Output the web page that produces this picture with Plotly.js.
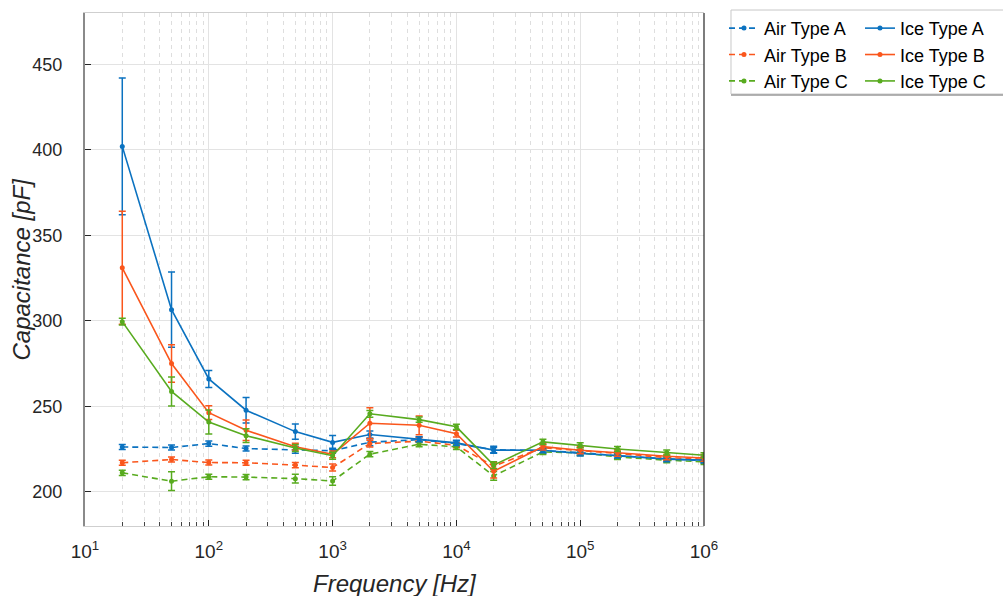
<!DOCTYPE html>
<html><head><meta charset="utf-8">
<script src="https://cdn.plot.ly/plotly-3.0.1.min.js"></script>
<style>html,body{margin:0;padding:0;background:#fff;}#chart{width:1003px;height:596px;}</style>
</head><body><div id="chart"></div>
<script>
const freq = [20, 50, 100, 200, 500, 1000, 2000, 5000, 10000, 20000, 50000, 100000, 200000, 500000, 1000000];

const airA = [226.2, 225.9, 228.2, 225.3, 224.5, 224.0, 229.0, 230.5, 228.2, 224.6, 224.0, 223.0, 221.0, 219.5, 218.2];
const airB = [217.0, 218.9, 217.1, 217.0, 215.6, 214.2, 228.2, 229.6, 227.2, 215.0, 225.8, 224.3, 222.4, 220.0, 219.0];
const airC = [211.1, 206.2, 208.8, 208.6, 207.7, 206.3, 222.0, 227.8, 226.3, 209.3, 223.3, 222.8, 220.4, 218.5, 217.5];
const iceA = [402.0, 306.5, 266.0, 247.7, 235.2, 228.9, 233.5, 230.7, 228.6, 224.4, 224.3, 222.4, 221.2, 219.0, 218.5];
const iceB = [331.0, 275.0, 246.3, 236.0, 226.4, 221.9, 240.1, 238.9, 234.0, 212.0, 226.4, 224.3, 222.8, 220.8, 219.8];
const iceC = [299.5, 258.7, 240.8, 232.8, 225.6, 221.1, 245.6, 242.2, 238.0, 215.6, 229.2, 227.2, 225.0, 223.0, 221.4];

const errAirA = [1.5, 1.5, 1.5, 1.5, 2.0, 1.5, 2.0, 1.5, 1.5, 2.0, 1.5, 1.5, 1.5, 1.5, 1.5];
const errAirB = [1.5, 1.5, 1.5, 1.5, 1.5, 2.0, 2.0, 2.0, 1.5, 2.0, 1.5, 1.5, 1.5, 1.5, 1.5];
const errAirC = [1.5, 5.5, 1.5, 1.5, 2.5, 2.5, 1.5, 1.5, 1.5, 2.5, 1.5, 1.5, 1.5, 1.5, 1.5];
const errIceA = [40, 22, 5, 7.5, 4.5, 4, 2, 1.5, 1.5, 1.5, 1.5, 1.5, 1.5, 1.5, 1.5];
const errIceB = [33, 11, 4, 6, 2, 2, 9, 5.5, 2, 4, 2, 2, 2, 2, 2];
const errIceC = [2, 8.5, 7, 4, 2, 2, 2, 1.5, 1.5, 2, 1.5, 1.5, 1.5, 1.5, 1.5];

const airNames = ['Air Type A', 'Air Type B', 'Air Type C'];
const iceNames = ['Ice Type A', 'Ice Type B', 'Ice Type C'];
const xTickVals = [10, 100, 1000, 10000, 100000, 1000000];
const xTickText = ['10<sup>1</sup>', '10<sup>2</sup>', '10<sup>3</sup>', '10<sup>4</sup>', '10<sup>5</sup>', '10<sup>6</sup>'];
const yTickVals = [200, 250, 300, 350, 400, 450];
const xTitle = 'Frequency [Hz]';
const yTitle = 'Capacitance [pF]';

const cBlue = '#0b72c0', cOrange = '#fa561c', cGreen = '#58ab1f';

function tr(name, y, err, color, dashed, legend) {
  return {
    x: freq, y: y, name: name, type: 'scatter', mode: 'lines+markers', legend: legend,
    line: {color: color, width: 1.6, dash: dashed ? '6px,4px' : 'solid'},
    marker: {color: color, size: 5, symbol: 'circle'},
    error_y: {type: 'data', array: err, visible: true, color: color, thickness: 1.5, width: 3.5}
  };
}

const data = [
  tr(airNames[0], airA, errAirA, cBlue, true, 'legend'),
  tr(airNames[1], airB, errAirB, cOrange, true, 'legend'),
  tr(airNames[2], airC, errAirC, cGreen, true, 'legend'),
  tr(iceNames[0], iceA, errIceA, cBlue, false, 'legend2'),
  tr(iceNames[1], iceB, errIceB, cOrange, false, 'legend2'),
  tr(iceNames[2], iceC, errIceC, cGreen, false, 'legend2')
];

const font = 'Liberation Sans, Arial, sans-serif';
const legendBase = {
  orientation: 'v', xanchor: 'left', y: 1.006, yanchor: 'top',
  font: {family: font, size: 18, color: '#000'},
  borderwidth: 0, bgcolor: 'rgba(0,0,0,0)',
  traceorder: 'normal', tracegroupgap: 0, itemwidth: 30
};

const layout = {
  width: 1003, height: 596,
  margin: {l: 85, r: 299, t: 13, b: 70, autoexpand: false},
  paper_bgcolor: '#ffffff', plot_bgcolor: '#ffffff',
  font: {family: font, color: '#262626', size: 18},
  showlegend: true,
  legend: Object.assign({}, legendBase, {x: 1.0323}),
  legend2: Object.assign({}, legendBase, {x: 1.252}),
  xaxis: {
    type: 'log', range: [1, 6],
    tickvals: xTickVals, ticktext: xTickText,
    ticks: 'inside', ticklen: 6, tickcolor: '#262626',
    showgrid: true, gridcolor: '#e3e3e3', gridwidth: 1,
    showline: true, linecolor: '#cfcfcf', linewidth: 1, mirror: true,
    zeroline: false, ticklabelstandoff: 8,
    tickfont: {size: 19, color: '#262626'},
    minor: {dtick: 'D1', showgrid: true, gridcolor: '#dedede', griddash: '4px,4px', gridwidth: 1, ticks: 'inside', ticklen: 4, tickcolor: '#444'}
  },
  yaxis: {
    range: [180, 480], tickvals: yTickVals,
    ticks: 'inside', ticklen: 6, tickcolor: '#262626',
    showgrid: true, gridcolor: '#e3e3e3', gridwidth: 1,
    showline: true, linecolor: '#8a8a8a', linewidth: 2,
    zeroline: false, ticklabelstandoff: 17,
    tickfont: {size: 18, color: '#262626'}
  },
  annotations: [
    {text: '<i>' + xTitle + '</i>', xref: 'paper', yref: 'paper', x: 0.5, y: 0, yshift: -57, xanchor: 'center', yanchor: 'middle', showarrow: false, font: {size: 24, color: '#262626'}},
    {text: '<i>' + yTitle + '</i>', xref: 'paper', yref: 'paper', x: 0, y: 0.5, xshift: -64, xanchor: 'center', yanchor: 'middle', textangle: -90, showarrow: false, font: {size: 24, color: '#262626'}}
  ],
  shapes: [
    {type: 'line', xref: 'paper', yref: 'paper', x0: 1, x1: 1, y0: 0, y1: 1, line: {color: '#262626', width: 1.2}},
    {type: 'rect', xref: 'paper', yref: 'paper', x0: 1.0436, x1: 1.495, y0: 0.8421, y1: 1.0058, line: {color: '#c8c8c8', width: 1}, fillcolor: '#ffffff', layer: 'below'},
    {type: 'line', xref: 'paper', yref: 'paper', x0: 1.0436, x1: 1.495, y0: 0.8402, y1: 0.8402, line: {color: '#9a9a9a', width: 1.5}}
  ]
};

Plotly.newPlot('chart', data, layout, {staticPlot: true, displayModeBar: false});
</script>
</body></html>
